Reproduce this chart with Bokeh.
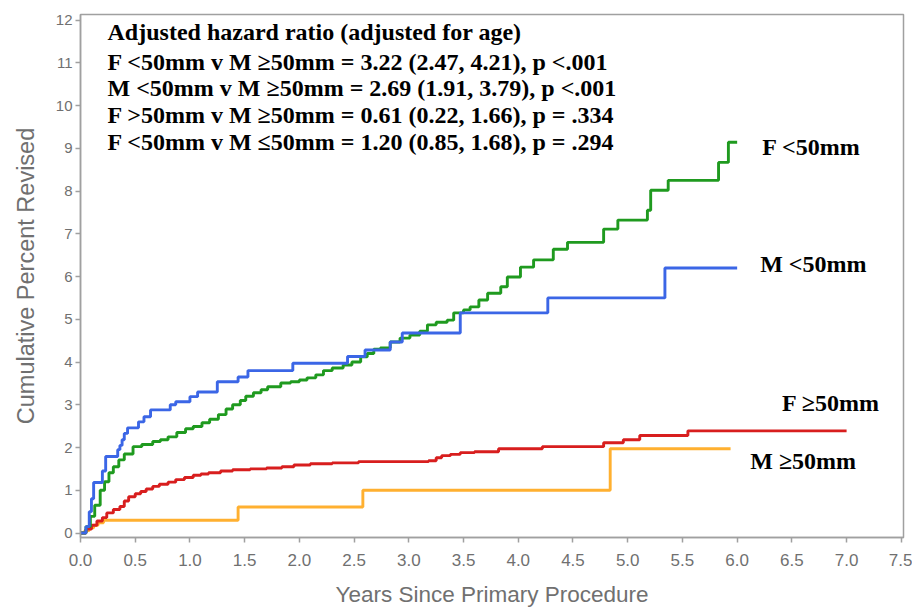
from bokeh.plotting import figure
from bokeh.models import Label, FixedTicker, NumeralTickFormatter
from bokeh.embed import file_html
from bokeh.resources import INLINE

# ---------------- data ----------------
# Female, head < 50mm (green)
f_small_t = [0, 0.05, 0.09, 0.13, 0.18, 0.22, 0.26, 0.30, 0.35, 0.40, 0.48, 0.56, 0.66, 0.73,
             0.80, 0.88, 0.96, 1.03, 1.11, 1.18, 1.26, 1.33, 1.39, 1.46, 1.51, 1.58, 1.65, 1.71,
             1.83, 1.92, 2.00, 2.07, 2.15, 2.22, 2.30, 2.40, 2.48, 2.56, 2.62, 2.68, 2.74, 2.83,
             2.92, 3.01, 3.10, 3.17, 3.25, 3.35, 3.41, 3.50, 3.56, 3.64, 3.72, 3.84, 3.90, 4.02,
             4.14, 4.32, 4.45, 4.78, 4.91, 5.18, 5.21, 5.37, 5.83, 5.92, 6.00]
f_small_v = [0, 0.15, 0.39, 0.65, 1.00, 1.20, 1.41, 1.55, 1.71, 1.85, 2.02, 2.07, 2.14, 2.18,
             2.25, 2.35, 2.44, 2.49, 2.58, 2.66, 2.77, 2.90, 3.00, 3.10, 3.20, 3.28, 3.35, 3.42,
             3.51, 3.54, 3.58, 3.63, 3.70, 3.80, 3.86, 3.93, 4.00, 4.12, 4.20, 4.30, 4.33, 4.47,
             4.56, 4.63, 4.72, 4.87, 4.93, 4.98, 5.15, 5.22, 5.29, 5.45, 5.61, 5.76, 5.99, 6.22,
             6.39, 6.64, 6.80, 7.11, 7.32, 7.55, 8.02, 8.25, 8.67, 9.14, 9.14]

# Male, head < 50mm (blue)
m_small_t = [0, 0.05, 0.08, 0.10, 0.12, 0.20, 0.23, 0.34, 0.36, 0.38, 0.40, 0.43, 0.53, 0.58,
             0.64, 0.82, 0.87, 1.00, 1.07, 1.25, 1.44, 1.53, 1.94, 2.44, 2.60, 2.83, 2.94, 3.47,
             4.27, 5.34, 6.00]
m_small_v = [0, 0.15, 0.50, 0.80, 1.18, 1.45, 1.79, 1.95, 2.05, 2.18, 2.33, 2.46, 2.60, 2.72,
             2.88, 3.00, 3.07, 3.19, 3.30, 3.54, 3.65, 3.80, 3.97, 4.13, 4.28, 4.47, 4.68, 5.15,
             5.50, 6.20, 6.20]

# Female, head >= 50mm (red)
f_large_t = [0, 0.05, 0.10, 0.15, 0.20, 0.24, 0.30, 0.36, 0.40, 0.44, 0.50, 0.55, 0.60, 0.66,
             0.72, 0.80, 0.87, 0.95, 1.03, 1.10, 1.17, 1.28, 1.39, 1.55, 1.70, 1.84, 1.95, 2.10,
             2.30, 2.54, 3.18, 3.25, 3.30, 3.38, 3.47, 3.60, 3.82, 4.22, 4.78, 4.96, 5.11, 5.55,
             7.00]
f_large_v = [0, 0.09, 0.18, 0.28, 0.36, 0.47, 0.55, 0.62, 0.75, 0.85, 0.92, 0.97, 1.03, 1.09,
             1.14, 1.19, 1.25, 1.30, 1.35, 1.38, 1.41, 1.45, 1.48, 1.50, 1.52, 1.55, 1.59, 1.62,
             1.64, 1.67, 1.69, 1.76, 1.81, 1.84, 1.88, 1.90, 1.97, 2.02, 2.11, 2.18, 2.28, 2.39,
             2.39]

# Male, head >= 50mm (orange)
m_large_t = [0, 0.04, 0.08, 0.12, 0.16, 0.21, 1.44, 2.58, 4.84, 5.94]
m_large_v = [0, 0.06, 0.12, 0.18, 0.24, 0.30, 0.61, 1.00, 1.97, 1.97]

x_ticks = [0.0, 0.5, 1.0, 1.5, 2.0, 2.5, 3.0, 3.5, 4.0, 4.5, 5.0, 5.5, 6.0, 6.5, 7.0, 7.5]
y_ticks = [0, 1, 2, 3, 4, 5, 6, 7, 8, 9, 10, 11, 12]

hr_title = "Adjusted hazard ratio (adjusted for age)"
hr_lines = [
    "F <50mm v M \u226550mm = 3.22 (2.47, 4.21), p <.001",
    "M <50mm v M \u226550mm = 2.69 (1.91, 3.79), p <.001",
    "F >50mm v M \u226550mm = 0.61 (0.22, 1.66), p = .334",
    "F <50mm v M \u226450mm = 1.20 (0.85, 1.68), p = .294",
]
series_labels = ["F <50mm", "M <50mm", "F \u226550mm", "M \u226550mm"]

# ---------------- figure ----------------
GREEN = "#1f9a1f"
BLUE = "#3b66e6"
RED = "#d81e1e"
ORANGE = "#ffb030"
AXIS_GRAY = "#a0a0a0"
TEXT_GRAY = "#707070"

p = figure(width=912, height=609, x_range=(0, 7.52), y_range=(-0.105, 12.13),
           output_backend="svg", toolbar_location=None,
           min_border_left=80, min_border_right=9, min_border_top=14, min_border_bottom=71)

p.xgrid.visible = False
p.ygrid.visible = False
p.outline_line_color = AXIS_GRAY
p.outline_line_width = 1.5

for ax in (p.xaxis[0], p.yaxis[0]):
    ax.axis_line_color = AXIS_GRAY
    ax.axis_line_width = 1.5
    ax.major_tick_line_color = AXIS_GRAY
    ax.major_tick_line_width = 1.5
    ax.major_tick_out = 5
    ax.major_tick_in = 0
    ax.minor_tick_line_color = None
    ax.major_label_text_color = TEXT_GRAY
    ax.major_label_text_font = "Liberation Sans"
    ax.axis_label_text_color = TEXT_GRAY
    ax.axis_label_text_font = "Liberation Sans"
    ax.axis_label_text_font_style = "normal"

p.xaxis.ticker = FixedTicker(ticks=x_ticks)
p.xaxis.formatter = NumeralTickFormatter(format="0.0")
p.xaxis.major_label_text_font_size = "17px"
p.xaxis.major_label_standoff = 11
p.xaxis.axis_label = "Years Since Primary Procedure"
p.xaxis.axis_label_text_font_size = "22.5px"
p.xaxis.axis_label_standoff = 13

p.yaxis.ticker = FixedTicker(ticks=y_ticks)
p.yaxis.major_label_text_font_size = "15px"
p.yaxis.major_label_standoff = 3
p.yaxis.axis_label = "Cumulative Percent Revised"
p.yaxis.axis_label_text_font_size = "23.5px"
p.yaxis.axis_label_standoff = 14

LW = 2.9
p.step(m_large_t, m_large_v, mode="after", line_color=ORANGE, line_width=LW)
p.step(f_large_t, f_large_v, mode="after", line_color=RED, line_width=LW)
p.step(f_small_t, f_small_v, mode="after", line_color=GREEN, line_width=LW)
p.step(m_small_t, m_small_v, mode="after", line_color=BLUE, line_width=LW)

# hazard-ratio annotation block
ann_font = "Liberation Serif"
ann_y = [11.71, 11.03, 10.40, 9.77, 9.14]
for txt, yy in zip([hr_title] + hr_lines, ann_y):
    p.add_layout(Label(x=0.247, y=yy, text=txt, text_font=ann_font, text_font_style="bold",
                       text_font_size="24px", text_color="black", text_baseline="middle",
                       text_align="left"))

# series labels
lab_pos = [(6.23, 9.02), (6.21, 6.29), (6.41, 3.05), (6.12, 1.69)]
for txt, (xx, yy) in zip(series_labels, lab_pos):
    p.add_layout(Label(x=xx, y=yy, text=txt, text_font=ann_font, text_font_style="bold",
                       text_font_size="24px", text_color="black", text_baseline="middle",
                       text_align="left"))

open("out.html", "w").write(file_html(p, INLINE))
